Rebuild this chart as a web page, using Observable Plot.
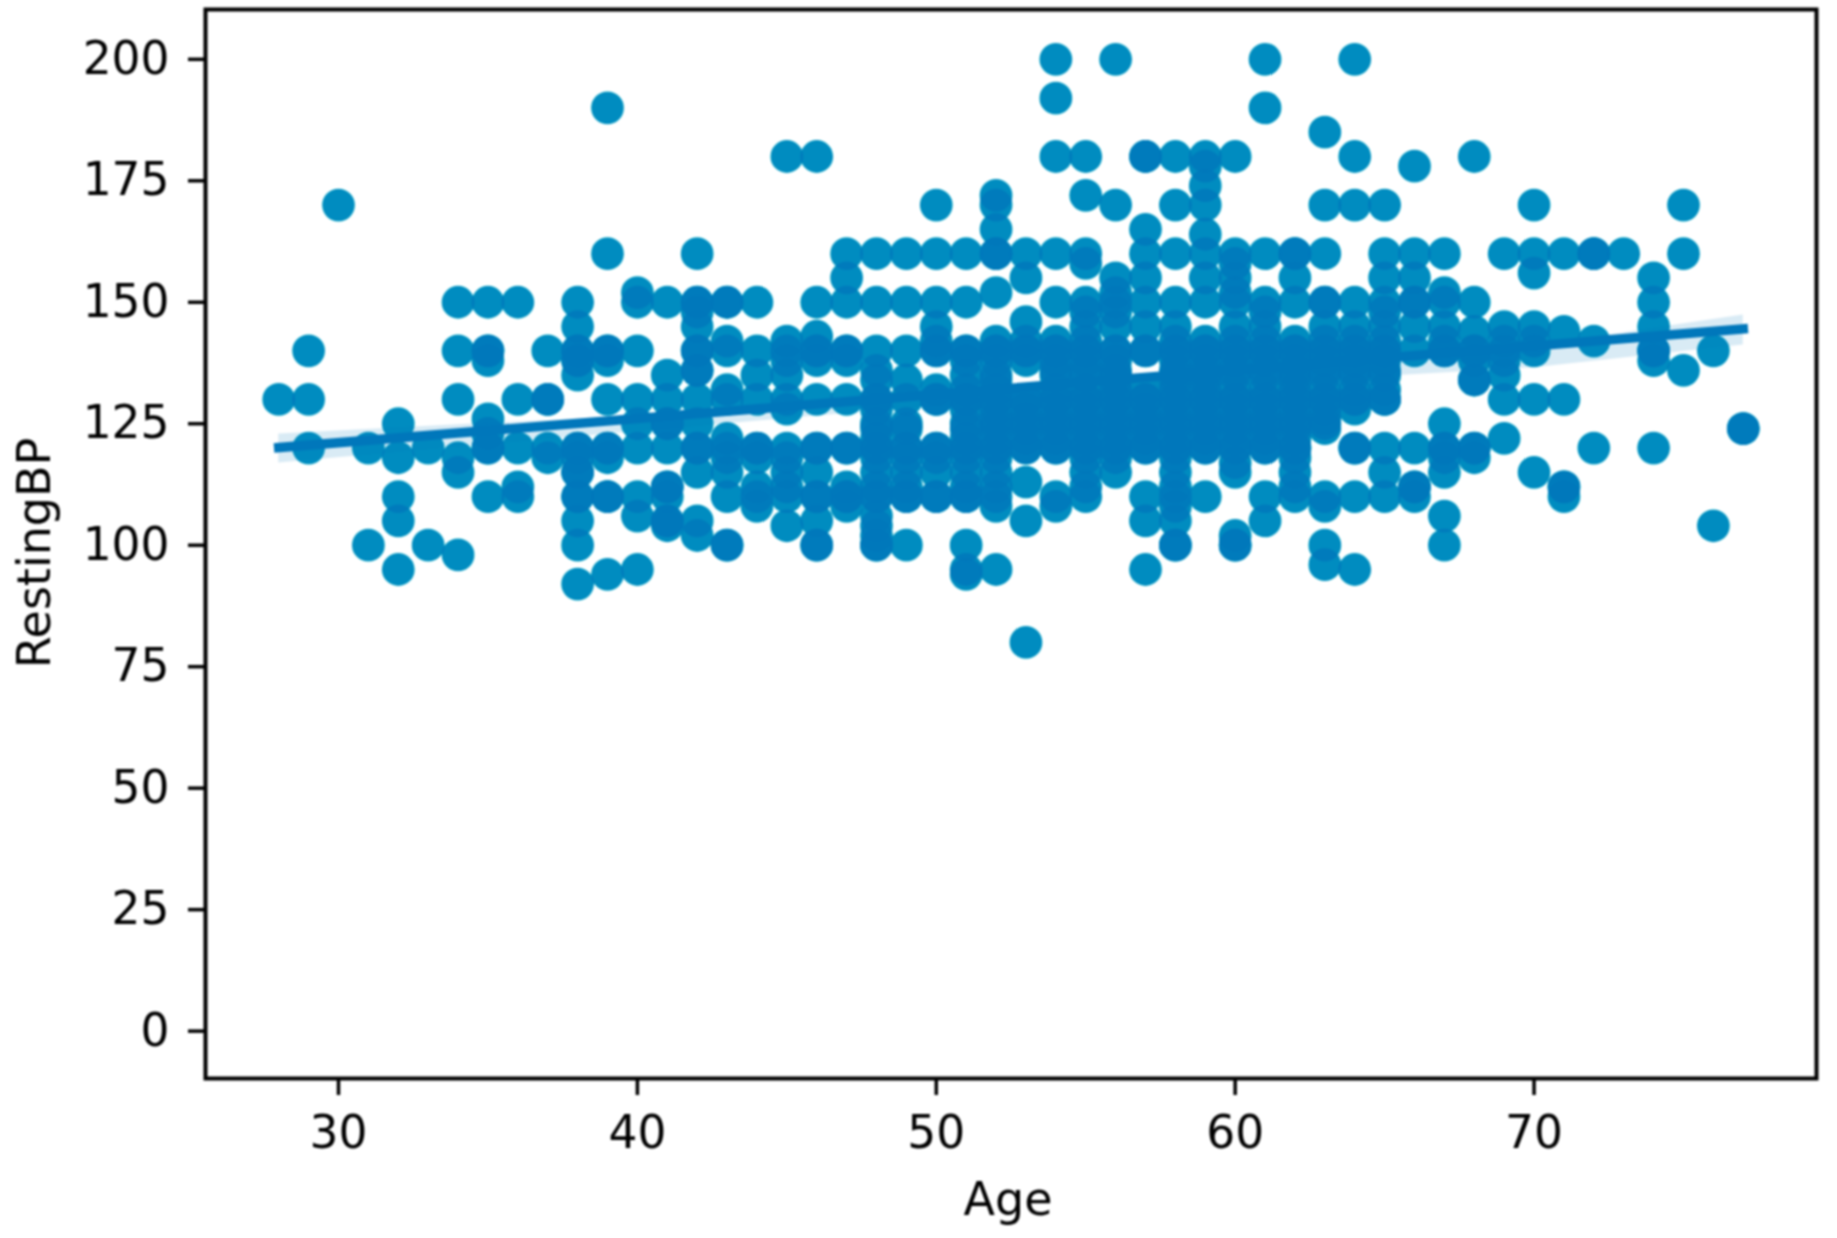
<!DOCTYPE html>
<html><head><meta charset="utf-8">
<script src="https://cdn.jsdelivr.net/npm/d3@7"></script>
<script src="https://cdn.jsdelivr.net/npm/@observablehq/plot@0.6"></script>
<style>html,body{margin:0;background:#fff}svg{display:block}</style>
</head><body><div id="c"></div>
<script>
const ages = [28,29,30,31,32,33,34,35,36,37,38,39,40,41,42,43,44,45,46,47,48,49,50,51,52,53,54,55,56,57,58,59,60,61,62,63,64,65,66,67,68,69,70,71,72,73,74,75,76,77];
const restingBP = [
 [130],
 [140,130,120],
 [170],
 [120,100],
 [125,118,110,105,95],
 [120,100],
 [150,140,130,118,115,98],
 [150,140,140,138,126,123,120,120,110],
 [150,130,120,112,110],
 [140,130,130,120,118],
 [150,145,140,140,138,138,135,120,120,118,115,115,110,110,105,100,92],
 [190,160,140,140,138,130,120,120,118,110,110,94],
 [152,150,140,130,125,120,110,106,95],
 [150,135,130,125,125,120,112,112,110,105,105,104],
 [160,150,150,148,145,140,140,136,136,130,125,120,120,115,105,102],
 [150,150,142,140,132,130,122,120,118,115,110,100,100],
 [150,140,135,130,120,120,118,112,110,108],
 [180,142,140,138,135,130,128,120,118,115,112,110,104],
 [180,150,143,140,140,138,130,120,120,115,110,110,105,100,100],
 [160,155,150,140,140,138,130,120,120,112,110,110,108],
 [160,150,140,136,134,130,130,128,125,124,122,120,120,118,115,112,110,110,106,104,102,100,100],
 [160,150,140,134,130,125,124,120,120,118,115,112,110,110,100],
 [170,160,150,145,142,140,140,132,130,130,120,120,118,115,110,110],
 [160,150,140,140,138,135,132,130,130,128,125,124,122,120,120,118,115,112,110,110,100,95,94],
 [172,170,165,160,160,152,142,140,140,138,135,134,132,130,130,128,126,125,124,122,120,120,118,115,112,110,108,95],
 [160,155,146,142,140,140,138,130,130,128,126,125,124,122,120,120,113,105,80],
 [200,192,180,160,150,142,140,140,138,136,135,132,130,130,128,126,125,124,122,120,120,110,108],
 [180,172,160,158,150,148,145,142,140,140,138,136,135,132,130,130,128,126,125,124,122,120,120,118,115,112,110],
 [200,170,155,152,150,148,145,140,140,138,136,135,134,132,130,130,128,126,125,124,122,120,120,118,115],
 [180,180,165,160,155,150,145,140,140,132,130,130,128,126,125,124,122,120,120,110,105,95],
 [180,170,160,150,145,142,140,140,138,136,135,134,132,130,130,128,126,125,124,122,120,120,118,115,112,110,108,105,100,100],
 [180,178,174,170,164,160,155,150,142,140,140,138,136,135,134,132,130,130,128,126,125,124,122,120,120,110],
 [180,160,158,155,152,150,145,142,140,140,138,136,135,132,130,130,128,126,125,124,122,120,120,117,115,102,100,100],
 [200,190,160,150,148,145,142,140,140,138,136,135,132,130,130,128,126,125,124,122,120,120,110,105],
 [160,160,155,150,142,140,140,138,136,135,134,132,130,130,128,126,125,124,122,120,120,118,115,112,110],
 [185,170,160,150,150,145,142,140,140,138,136,135,132,130,130,128,126,125,124,110,108,100,96],
 [200,180,170,150,145,142,140,140,138,136,135,132,130,130,128,120,120,110,95],
 [170,160,155,150,148,145,142,140,140,138,136,135,132,130,130,120,115,110],
 [178,160,155,150,150,145,140,120,112,112,110],
 [160,152,150,145,142,140,140,125,120,120,118,115,106,100],
 [180,150,144,140,140,138,134,134,120,120,118],
 [160,145,142,140,138,135,130,122],
 [170,160,156,145,142,140,130,115],
 [160,144,130,112,112,110],
 [160,160,142,120],
 [160],
 [155,150,145,140,140,138,120],
 [170,160,136],
 [140,104],
 [124,124]
];
const fitAges = [28,77];
const fitBP = [120.1,144.5];
const ciAges = [28,34,40,46,52,58,64,70,77];
const ciLow = [116.9,120.2,123.4,126.6,129.6,132.2,134.4,136.5,141.2];
const ciHigh = [122.9,124.8,126.6,128.6,131.8,134.6,137.8,141.0,147.4];
const xTicks = [30,40,50,60,70];
const yTicks = [0,25,50,75,100,125,150,175,200];

const points = ages.flatMap((a,i)=>restingBP[i].map(b=>({Age:a,RestingBP:b})));
const fit = fitAges.map((a,i)=>({Age:a,RestingBP:fitBP[i]}));
const ci = ciAges.map((a,i)=>({Age:a,lo:ciLow[i],hi:ciHigh[i]}));
const blue = "#0077BB";

const svg = Plot.plot({
  width: 1837, height: 1238,
  marginLeft: 205, marginRight: 21, marginTop: 9, marginBottom: 160,
  x: {domain:[25.55,79.45]},
  y: {domain:[-9.75,210.25]},
  style: {fontFamily:"'DejaVu Sans'", fontSize:"45px", color:"#000", background:"#fff"},
  marks: [
    Plot.dot(points,{x:"Age",y:"RestingBP",r:16.4,fill:blue,fillOpacity:0.8,stroke:"none"}),
    Plot.areaY(ci,{x:"Age",y1:"lo",y2:"hi",fill:blue,fillOpacity:0.15}),
    Plot.line(fit,{x:"Age",y:"RestingBP",stroke:blue,strokeWidth:9.5,strokeLinecap:"square"}),
    Plot.frame({stroke:"#000",strokeWidth:4}),
    Plot.axisX({ticks:xTicks,tickSize:17,tickPadding:20,strokeWidth:3.5,stroke:"#000",fill:"#000",fontSize:45.5,label:null}),
    Plot.axisY({ticks:yTicks,tickSize:17,tickPadding:19,strokeWidth:3.5,stroke:"#000",fill:"#000",fontSize:45.5,label:null}),
    Plot.text(["Age"],{frameAnchor:"bottom",dy:136,dx:-3,fontSize:46,fill:"#000"}),
    Plot.text(["RestingBP"],{frameAnchor:"left",textAnchor:"middle",dx:-170,dy:9,rotate:-90,fontSize:46,fill:"#000"})
  ]
});
svg.style.maxWidth="none";
svg.style.filter="blur(0.8px)";
// Recolour single and overlapping dots: alpha 0.8 -> #008CC0, alpha 1 -> #0077BB
const ns="http://www.w3.org/2000/svg";
const defs=document.createElementNS(ns,"defs");
defs.innerHTML='<filter id="dotTone" color-interpolation-filters="sRGB" x="0" y="0" width="100%" height="100%"><feColorMatrix type="matrix" values="0 0 0 0 0  0 0 0 -0.412 0.878  0 0 0 -0.098 0.831  0 0 0 1.25 0"/></filter>';
svg.appendChild(defs);
svg.querySelector('g[aria-label="dot"]').setAttribute("filter","url(#dotTone)");
document.getElementById("c").appendChild(svg);
</script></body></html>
